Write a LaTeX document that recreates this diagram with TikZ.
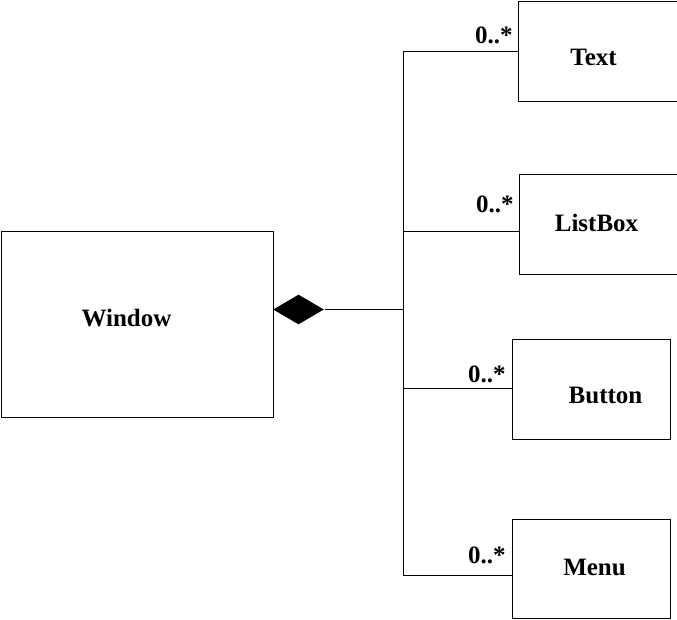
\documentclass[tikz,border=0pt]{standalone}
\usepackage{fontspec}
\setmainfont{Liberation Serif}
\usetikzlibrary{shapes.geometric}
\begin{document}
\begin{tikzpicture}[x=1pt,y=-1pt,line width=1pt,
  cls/.style={draw,rectangle,inner sep=0pt,anchor=north west},
  lbl/.style={font=\fontsize{25}{30}\selectfont\bfseries,anchor=base,inner sep=0pt},
  mult/.style={font=\fontsize{25}{30}\selectfont\bfseries,anchor=base east,inner sep=0pt},
  agg/.style={diamond,fill=black,inner sep=0pt,minimum width=51pt,minimum height=30pt}]
\useasboundingbox (0,0) rectangle (677,619);
% classes
\node[cls,minimum width=272.5pt,minimum height=186pt] (window) at (0.5,230.5) {};
\node[cls,minimum width=159pt,minimum height=100.5pt] (text) at (517.5,0.5) {};
\node[cls,minimum width=158pt,minimum height=100pt] (listbox) at (518.5,173.5) {};
\node[cls,minimum width=158pt,minimum height=100.5pt] (button) at (511.5,338.5) {};
\node[cls,minimum width=158pt,minimum height=99.5pt] (menu) at (511.5,518.5) {};
% class names
\node[lbl] (twindow) at (126.5,326) {Window};
\node[lbl] (ttext) at (593.5,65) {Text};
\node[lbl] (tlistbox) at (596.5,231) {ListBox};
\node[lbl] (tbutton) at (605.5,403) {Button};
\node[lbl] (tmenu) at (594.5,575) {Menu};
% aggregation diamond
\node[agg] (dia) at (298.5,309.5) {};
% junction points
\coordinate (tj) at (403,51);
\coordinate (lj) at (403,231);
\coordinate (aj) at (403,309.5);
\coordinate (bj) at (403,388);
\coordinate (mj) at (403,575);
% connectors
\draw (dia.east) -- (aj);
\draw (tj) -- (mj);
\draw (tj) -- (tj -| text.west);
\draw (lj) -- (lj -| listbox.west);
\draw (bj) -- (bj -| button.west);
\draw (mj) -- (mj -| menu.west);
% multiplicities
\node[mult] (mtext) at (513,43) {0..*};
\node[mult] (mlistbox) at (514,212) {0..*};
\node[mult] (mbutton) at (506,382) {0..*};
\node[mult] (mmenu) at (506,563) {0..*};
\end{tikzpicture}
\end{document}
